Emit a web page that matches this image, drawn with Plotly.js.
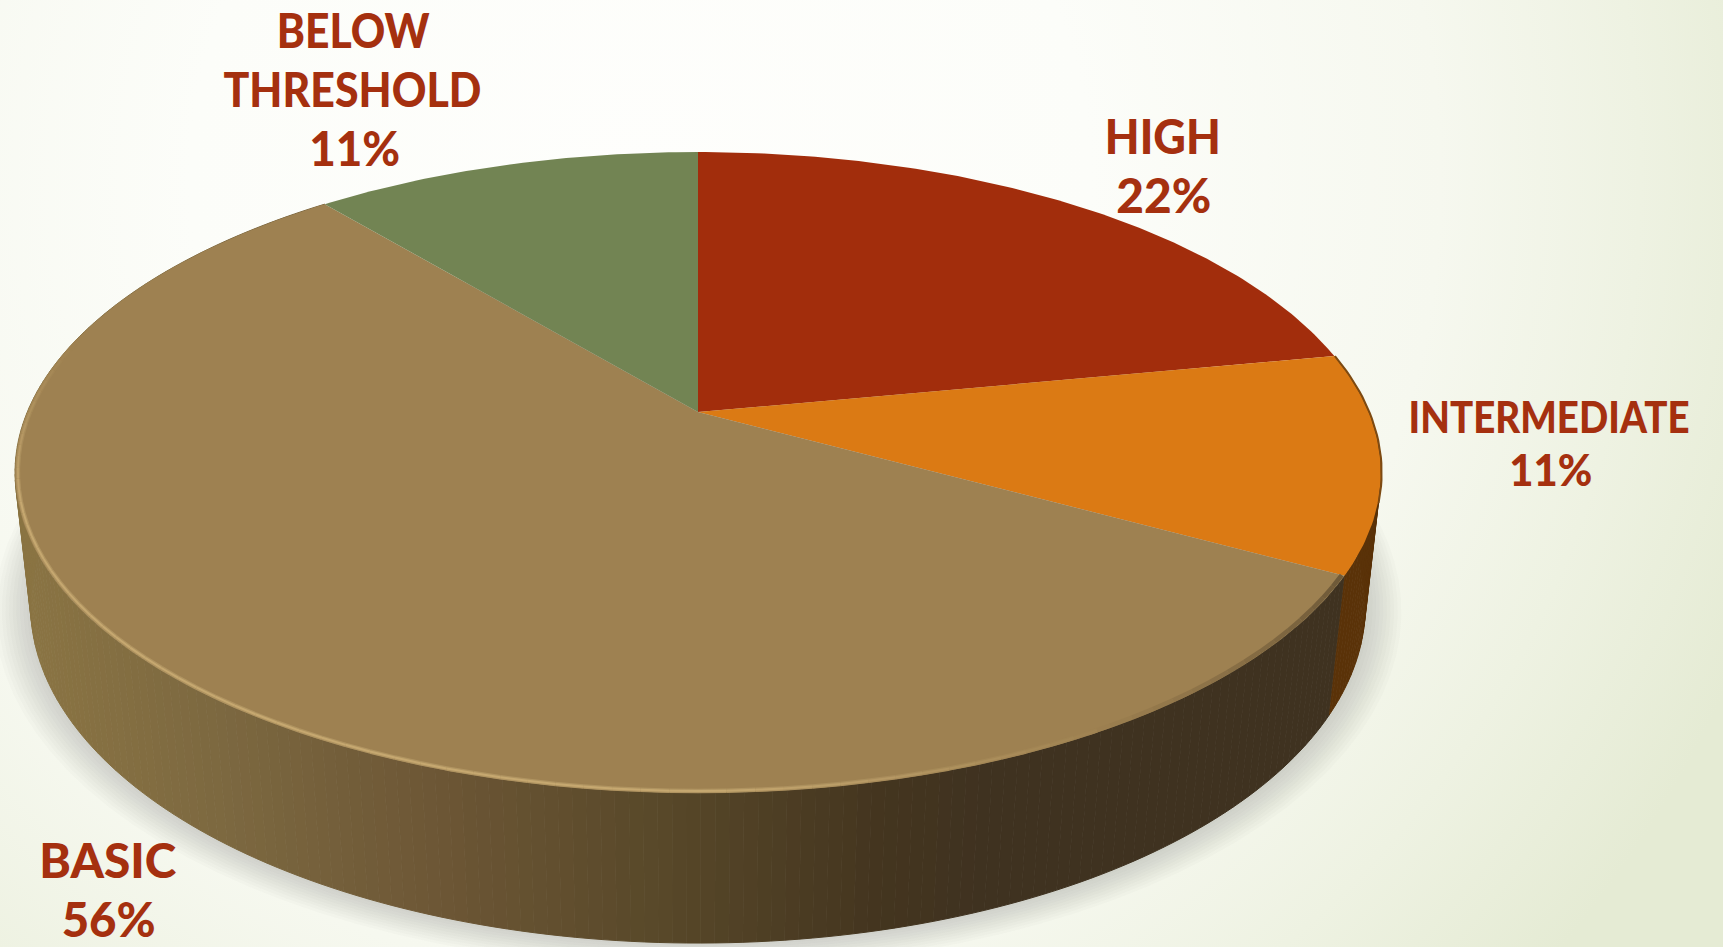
<!DOCTYPE html>
<html>
<head>
<meta charset="utf-8">
<script src="https://cdn.plot.ly/plotly-3.0.1.min.js"></script>
<style>
  html, body { margin: 0; padding: 0; width: 1723px; height: 947px; overflow: hidden; }
  body { background: radial-gradient(circle at 640px 180px, #fefefc 0, #fcfdf9 450px, #f6f8ef 800px, #eef2e2 1000px, #e5ebd4 1200px); }
  #chart { width: 1723px; height: 947px; }
</style>
</head>
<body>
<div id="chart"></div>
<script>
// Proficiency shares shown on the disc, clockwise from twelve o'clock.
const categories = ['HIGH', 'INTERMEDIATE', 'BASIC', 'BELOW THRESHOLD'];
const shares = [22, 11, 56, 11];

const topColors = ['#a22d0c', '#db7a14', '#9e8151', '#728453'];
const orangeWall = '#5a3208';
const tanWallStops = [[20, [138, 116, 67]], [220, [124, 104, 64]], [440, [108, 86, 53]], [660, [88, 72, 41]], [880, [68, 53, 31]], [990, [63, 50, 32]], [1400, [63, 50, 32]]];
const labelColor = '#a5300f';

// Label lines: one entry per drawn line, tied to the category index; w is the set width of the line.
const labelLines = [
  {cat: 3, text: 'BELOW', x: 353, y: 29, size: 48, w: 153},
  {cat: 3, text: 'THRESHOLD', x: 352, y: 88, size: 48, w: 258},
  {cat: 3, pct: true, x: 354, y: 147, size: 48, w: 91},
  {cat: 0, text: 'HIGH', x: 1163, y: 135, size: 48, w: 116},
  {cat: 0, pct: true, x: 1163, y: 194, size: 48, w: 95},
  {cat: 1, text: 'INTERMEDIATE', x: 1549, y: 416, size: 43, w: 281},
  {cat: 1, pct: true, x: 1550, y: 469, size: 43, w: 83},
  {cat: 2, text: 'BASIC', x: 108, y: 859, size: 48, w: 137},
  {cat: 2, pct: true, x: 108, y: 918, size: 48, w: 94}
];

// Perspective projection of the disc: r is the radius, h = 0 for the top face, 1 for the base.
const CX = 698, CY = 412, A = 670.7, B = 309, K = 0.1887, DEPTH_W = 0.0225, DEPTH_Y = 133.8;
function project(deg, r, h) {
  const t = deg * Math.PI / 180;
  const u = r * Math.sin(t), v = -r * Math.cos(t);
  const w = 1 - K * v + DEPTH_W * h;
  return [CX + A * u / w, CY + (B * v + DEPTH_Y * h) / w];
}
function mix(stops, x) {
  for (let i = 1; i < stops.length; i++) {
    if (x <= stops[i][0]) {
      const f = Math.max(0, (x - stops[i - 1][0]) / (stops[i][0] - stops[i - 1][0]));
      return stops[i - 1][1].map((c, k) => c + (stops[i][1][k] - c) * f);
    }
  }
  return stops[stops.length - 1][1];
}
const rgb = c => `rgb(${c.map(Math.round).join(',')})`;
const blend = (a, b, f) => a.map((c, i) => c + (b[i] - c) * f);
function polygon(pts, color, lineColor) {
  return {
    type: 'scatter', mode: 'lines', x: pts.map(p => p[0]), y: pts.map(p => p[1]),
    fill: 'toself', fillcolor: color,
    line: {color: lineColor || color, width: lineColor ? 1 : 0},
    hoverinfo: 'skip', showlegend: false
  };
}
function stroke(pts, color, width) {
  return {
    type: 'scatter', mode: 'lines', x: pts.map(p => p[0]), y: pts.map(p => p[1]),
    line: {color: color, width: width, shape: 'linear'}, hoverinfo: 'skip', showlegend: false
  };
}

const total = shares.reduce((a, b) => a + b, 0);
const bounds = [0];
shares.forEach(s => bounds.push(bounds[bounds.length - 1] + s / total * 360));

const traces = [];

// Soft ground shadow: nested translucent outlines of the base.
for (let i = 10; i >= 1; i--) {
  const pts = [];
  for (let d = 0; d <= 360; d += 3) pts.push(project(d, 1 + i * 0.0052, 1));
  traces.push(polygon(pts, 'rgba(110,120,105,0.028)'));
}

// Outer wall, built from narrow strips between the rim and the base.
const wallStep = 1;
for (let d = bounds[1]; d < bounds[2]; d += wallStep) {
  const e = Math.min(d + wallStep, bounds[2]);
  traces.push(polygon([project(d, 1, 0), project(e, 1, 0), project(e, 1, 1), project(d, 1, 1)], orangeWall, orangeWall));
}
for (let d = bounds[2]; d < bounds[3]; d += wallStep) {
  const e = Math.min(d + wallStep, bounds[3]);
  const c = rgb(mix(tanWallStops, project((d + e) / 2, 1, 0)[0]));
  traces.push(polygon([project(d, 1, 0), project(e, 1, 0), project(e, 1, 1), project(d, 1, 1)], c, c));
}

// Top face slices.
shares.forEach((s, i) => {
  const pts = [project(0, 0, 0)];
  const n = Math.ceil((bounds[i + 1] - bounds[i]) / 0.75);
  for (let j = 0; j <= n; j++) pts.push(project(bounds[i] + (bounds[i + 1] - bounds[i]) * j / n, 1, 0));
  pts.push(project(0, 0, 0));
  traces.push(polygon(pts, topColors[i]));
});

// Dark rim along the right edge of the orange slice.
const rimPts = [];
for (let d = bounds[1]; d <= bounds[2] - 12; d += 1) rimPts.push(project(d, 1.001, 0));
traces.push(stroke(rimPts, '#7d4a12', 2));

// Soft rolled edge of the large slice: a wider, fainter band under a narrow bright core.
const faceTan = [158, 129, 81], wallDark = [63, 50, 32], glow = [198, 168, 112], rimTan = [176, 148, 97];
const bevelEnd = 150;
for (let d = bounds[2]; d < bevelEnd; d += 2) {
  const f = (d - bounds[2]) / (bevelEnd - bounds[2]);
  const band = blend(blend(faceTan, wallDark, 0.5), faceTan, f);
  traces.push(stroke([project(d, 0.996, 0), project(d + 2, 0.996, 0)], rgb(band), 4.5));
}
const bevelAmount = d => Math.min(1, (284 - d) / 30) * Math.min(1, (d - bevelEnd) / 30);
for (let d = 284; d > bevelEnd; d -= 2) {
  traces.push(stroke([project(d, 0.996, 0), project(d - 2, 0.996, 0)], rgb(blend(faceTan, rimTan, bevelAmount(d))), 4.5));
}
for (let d = 284; d > bevelEnd; d -= 2) {
  traces.push(stroke([project(d, 0.996, 0), project(d - 2, 0.996, 0)], rgb(blend(faceTan, glow, bevelAmount(d))), 2));
}

const annotations = labelLines.map(l => ({
  x: l.x, y: l.y, xref: 'x', yref: 'y', xanchor: 'center', yanchor: 'middle', showarrow: false,
  text: l.pct ? shares[l.cat] + '%' : l.text,
  font: {family: 'Lato, sans-serif', size: l.size, color: labelColor, weight: 900}
}));

Plotly.newPlot('chart', traces, {
  width: 1723, height: 947,
  margin: {l: 0, r: 0, t: 0, b: 0},
  paper_bgcolor: 'rgba(0,0,0,0)', plot_bgcolor: 'rgba(0,0,0,0)',
  xaxis: {range: [0, 1723], visible: false, fixedrange: true},
  yaxis: {range: [947, 0], visible: false, fixedrange: true},
  showlegend: false,
  annotations: annotations
}, {displayModeBar: false, staticPlot: true}).then(gd => {
  // Set each label line to its own width.
  gd.querySelectorAll('.annotation-text').forEach((node, i) => {
    node.setAttribute('textLength', labelLines[i].w);
    node.setAttribute('lengthAdjust', 'spacingAndGlyphs');
  });
});
</script>
</body>
</html>
